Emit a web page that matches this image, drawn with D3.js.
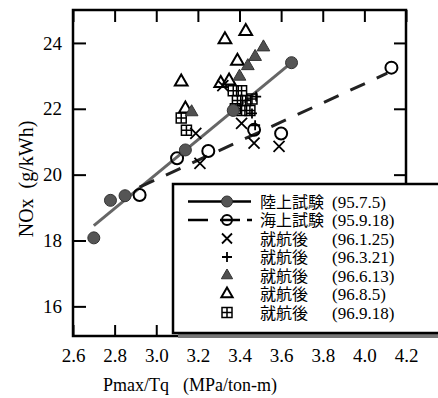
<!DOCTYPE html>
<html>
<head>
<meta charset="utf-8">
<script src="https://cdn.jsdelivr.net/npm/d3@7"></script>
<style>
body { margin: 0; background: #fff; }
</style>
</head>
<body>
<script>
// Values

// 陸上試験 (95.7.5) - filled circles + fitted solid line
var landX = [2.70, 2.78, 2.85, 3.14, 3.37, 3.65];
var landY = [18.08, 19.22, 19.36, 20.75, 21.95, 23.40];
var landFitX = [2.70, 3.65];
var landFitY = [18.45, 23.40];

// 海上試験 (95.9.18) - open circles + dashed line
var seaX = [2.92, 3.10, 3.25, 3.47, 3.60, 4.13];
var seaY = [19.38, 20.50, 20.72, 21.36, 21.25, 23.25];
var seaFitX = [2.92, 4.11];
var seaFitY = [19.62, 23.08];

// 就航後 series
var crossX = [3.21, 3.19, 3.41, 3.47, 3.59, 3.32];      // 96.1.25
var crossY = [20.34, 21.25, 21.56, 20.96, 20.86, 22.70];
var plusX = [3.48, 3.46, 3.475];                          // 96.3.21
var plusY = [22.37, 21.86, 21.50];
var triFillX = [3.17, 3.40, 3.44, 3.475, 3.515];          // 96.6.13
var triFillY = [21.90, 22.98, 23.30, 23.58, 23.87];
var triOpenX = [3.12, 3.33, 3.43, 3.39, 3.31, 3.14, 3.35]; // 96.8.5
var triOpenY = [22.82, 24.10, 24.35, 23.45, 22.77, 22.00, 22.85];
var gridX = [3.12, 3.145, 3.37, 3.41, 3.39, 3.43, 3.46, 3.41, 3.45, 3.38]; // 96.9.18
var gridY = [21.72, 21.35, 22.55, 22.55, 22.25, 22.25, 22.30, 21.95, 21.95, 22.00];

var xTicks = [2.6, 2.8, 3.0, 3.2, 3.4, 3.6, 3.8, 4.0, 4.2];
var yTicks = [16, 18, 20, 22, 24];
var legendNames = ["陸上試験", "海上試験", "就航後", "就航後", "就航後", "就航後", "就航後"];
var legendDates = ["(95.7.5)", "(95.9.18)", "(96.1.25)", "(96.3.21)", "(96.6.13)", "(96.8.5)", "(96.9.18)"];
var legendKinds = ["land", "sea", "cross", "plus", "triFill", "triOpen", "grid"];

// Settings
var w = 438;
var h = 398;
var serif = "'Liberation Serif', 'DejaVu Serif', serif";
var ink = "#000";

var xScale = d3.scaleLinear().domain([2.6, 4.2]).range([73, 406]);
var yScale = d3.scaleLinear().domain([15.1, 25]).range([336, 10]);

function zip(xs, ys) {
	return xs.map(function(x, i) { return {x: x, y: ys[i]}; });
}

var svg = d3.select("body")
			.append("svg")
			.attr("width", w)
			.attr("height", h);

svg.append("rect").attr("width", w).attr("height", h).attr("fill", "#fff");

// Axes, ticks point inward
function styleAxis(g) {
	g.select(".domain").remove();
	g.selectAll("line").attr("stroke", ink).attr("stroke-width", 2);
	g.selectAll("text")
		.attr("fill", ink)
		.style("font-family", serif)
		.style("font-size", "19px");
}

svg.append("g")
	.attr("transform", "translate(0," + yScale.range()[0] + ")")
	.call(d3.axisBottom(xScale).tickValues(xTicks).tickSizeInner(-11).tickSizeOuter(0)
		.tickPadding(13).tickFormat(d3.format(".1f")))
	.call(styleAxis);

svg.append("g")
	.attr("transform", "translate(0," + yScale.range()[1] + ")")
	.call(d3.axisTop(xScale).tickValues(xTicks).tickSizeInner(-12).tickSizeOuter(0).tickFormat(""))
	.call(styleAxis);

svg.append("g")
	.attr("transform", "translate(" + xScale.range()[0] + ",0)")
	.call(d3.axisLeft(yScale).tickValues(yTicks).tickSizeInner(-13).tickSizeOuter(0)
		.tickPadding(11).tickFormat(d3.format("d")))
	.call(styleAxis);

svg.append("g")
	.attr("transform", "translate(" + xScale.range()[1] + ",0)")
	.call(d3.axisRight(yScale).tickValues(yTicks).tickSizeInner(-12).tickSizeOuter(0).tickFormat(""))
	.call(styleAxis);

// Frame
svg.append("rect")
	.attr("x", xScale.range()[0])
	.attr("y", yScale.range()[1])
	.attr("width", xScale.range()[1] - xScale.range()[0])
	.attr("height", yScale.range()[0] - yScale.range()[1])
	.attr("fill", "none")
	.attr("stroke", ink)
	.attr("stroke-width", 2.5);

// Axis titles
svg.append("text")
	.attr("x", 103)
	.attr("y", 391)
	.attr("fill", ink)
	.style("font-family", serif)
	.style("font-size", "18px")
	.text("Pmax/Tq");

svg.append("text")
	.attr("x", 183)
	.attr("y", 391)
	.attr("fill", ink)
	.style("font-family", serif)
	.style("font-size", "18px")
	.text("(MPa/ton-m)");

svg.append("text")
	.attr("transform", "translate(33,179) rotate(-90)")
	.attr("text-anchor", "middle")
	.attr("fill", ink)
	.style("font-family", serif)
	.style("font-size", "20px")
	.style("white-space", "pre")
	.text("NOx  (g/kWh)");

// Marker painters
function drawCircle(g, cx, cy, r, filled) {
	g.append("circle")
		.attr("cx", cx).attr("cy", cy).attr("r", r)
		.attr("fill", filled ? "#555" : "none")
		.attr("stroke", filled ? "#333" : ink)
		.attr("stroke-width", filled ? 1 : 2);
}
function drawTri(g, cx, cy, size, filled) {
	g.append("path")
		.attr("d", d3.symbol().type(d3.symbolTriangle).size(size)())
		.attr("transform", "translate(" + cx + "," + cy + ")")
		.attr("fill", filled ? "#505050" : "none")
		.attr("stroke", filled ? "#333" : ink)
		.attr("stroke-width", filled ? 1 : 2)
		.attr("stroke-linejoin", "miter");
}
function drawCross(g, cx, cy, a) {
	g.append("path")
		.attr("d", "M" + (cx - a) + "," + (cy - a) + "L" + (cx + a) + "," + (cy + a) +
			"M" + (cx - a) + "," + (cy + a) + "L" + (cx + a) + "," + (cy - a))
		.attr("stroke", ink).attr("stroke-width", 1.8).attr("fill", "none");
}
function drawPlus(g, cx, cy, a) {
	g.append("path")
		.attr("d", "M" + (cx - a) + "," + cy + "L" + (cx + a) + "," + cy +
			"M" + cx + "," + (cy - a) + "L" + cx + "," + (cy + a))
		.attr("stroke", ink).attr("stroke-width", 1.8).attr("fill", "none");
}
function drawGrid(g, cx, cy, a) {
	g.append("path")
		.attr("d", "M" + (cx - a) + "," + (cy - a) + "h" + (2 * a) + "v" + (2 * a) + "h" + (-2 * a) + "Z" +
			"M" + (cx - a) + "," + cy + "h" + (2 * a) + "M" + cx + "," + (cy - a) + "v" + (2 * a))
		.attr("stroke", ink).attr("stroke-width", 1.5).attr("fill", "none");
}

// Fitted lines
var line = d3.line()
	.x(function(d) { return xScale(d.x); })
	.y(function(d) { return yScale(d.y); });

svg.append("path")
	.attr("d", line(zip(landFitX, landFitY)))
	.attr("stroke", "#666")
	.attr("stroke-width", 3)
	.attr("fill", "none");

svg.append("path")
	.attr("d", line(zip(seaFitX, seaFitY)))
	.attr("stroke", "#222")
	.attr("stroke-width", 3)
	.attr("stroke-dasharray", "16,13")
	.attr("fill", "none");

// Points
var pts = svg.append("g");
zip(gridX, gridY).forEach(function(d) { drawGrid(pts, xScale(d.x), yScale(d.y), 5); });
zip(triOpenX, triOpenY).forEach(function(d) { drawTri(pts, xScale(d.x), yScale(d.y), 70, false); });
zip(triFillX, triFillY).forEach(function(d) { drawTri(pts, xScale(d.x), yScale(d.y), 70, true); });
zip(crossX, crossY).forEach(function(d) { drawCross(pts, xScale(d.x), yScale(d.y), 5.5); });
zip(plusX, plusY).forEach(function(d) { drawPlus(pts, xScale(d.x), yScale(d.y), 5); });
zip(seaX, seaY).forEach(function(d) { drawCircle(pts, xScale(d.x), yScale(d.y), 6, false); });
zip(landX, landY).forEach(function(d) { drawCircle(pts, xScale(d.x), yScale(d.y), 6, true); });

// Legend box (runs off the right edge, shadow at the bottom)
var lg = svg.append("g");
lg.append("rect")
	.attr("x", 178).attr("y", 333).attr("width", 270).attr("height", 5)
	.attr("fill", "#777");
lg.append("rect")
	.attr("x", 173).attr("y", 184).attr("width", 280).attr("height", 149)
	.attr("fill", "#fff")
	.attr("stroke", ink)
	.attr("stroke-width", 2.5);

var rowY = function(i) { return 201.5 + i * 18.5; };
var mx = 227;

legendKinds.forEach(function(k, i) {
	var cy = rowY(i);
	if (k == "land") {
		lg.append("line").attr("x1", 188).attr("x2", 251).attr("y1", cy).attr("y2", cy)
			.attr("stroke", ink).attr("stroke-width", 2.5);
		drawCircle(lg, mx, cy, 5.5, true);
	} else if (k == "sea") {
		lg.append("line").attr("x1", 188).attr("x2", 252).attr("y1", cy).attr("y2", cy)
			.attr("stroke", ink).attr("stroke-width", 2.5)
			.attr("stroke-dasharray", "20,12,20,7,5");
		drawCircle(lg, mx, cy, 5, false);
	} else if (k == "cross") {
		drawCross(lg, mx, cy, 5);
	} else if (k == "plus") {
		drawPlus(lg, mx, cy, 5);
	} else if (k == "triFill") {
		drawTri(lg, mx, cy, 55, true);
	} else if (k == "triOpen") {
		drawTri(lg, mx, cy, 55, false);
	} else {
		drawGrid(lg, mx, cy, 5);
	}
	// name and date as separate texts
	lg.append("text")
		.attr("x", 260)
		.attr("y", cy + 6)
		.attr("fill", ink)
		.style("font-family", "'Noto Sans CJK JP', sans-serif")
		.style("font-size", "16px")
		.text(legendNames[i]);
	lg.append("text")
		.attr("x", 332)
		.attr("y", cy + 6)
		.attr("fill", ink)
		.style("font-family", serif)
		.style("font-size", "17px")
		.text(legendDates[i]);
});
</script>
</body>
</html>
